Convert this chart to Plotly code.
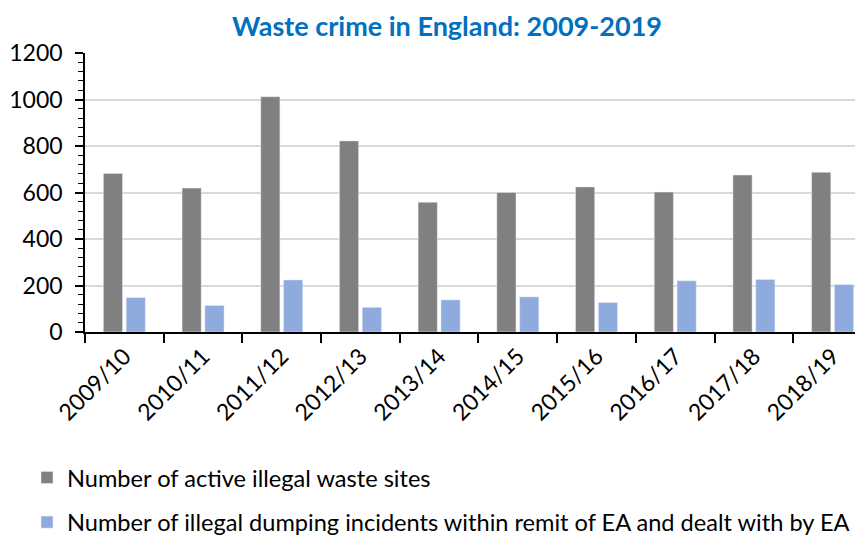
import plotly.graph_objects as go

categories = ["2009/10", "2010/11", "2011/12", "2012/13", "2013/14",
              "2014/15", "2015/16", "2016/17", "2017/18", "2018/19"]
active_sites = [682, 619, 1012, 822, 558, 600, 624, 602, 675, 687]
dumping_incidents = [148, 114, 224, 106, 138, 151, 127, 220, 226, 204]
series_names = ["Number of active illegal waste sites",
                "Number of illegal dumping incidents within remit of EA and dealt with by EA"]
y_ticks = [0, 200, 400, 600, 800, 1000, 1200]

FONT = "Lato"
# page body has an 8px margin; figure coordinates are viewport minus 8
W, H = 855, 527
L, T, B = 77, 45.3, 203.3
PW = W - L
PH = H - T - B

fig = go.Figure()
fig.add_trace(go.Bar(x=categories, y=active_sites, name=series_names[0],
                     marker=dict(color="#808080"), legendgroup="a"))
fig.add_trace(go.Bar(x=categories, y=dumping_incidents, name=series_names[1],
                     marker=dict(color="#8faadc"), legendgroup="b"))

fig.update_layout(
    width=W, height=H,
    paper_bgcolor="white", plot_bgcolor="white",
    margin=dict(l=L, r=0, t=T, b=B, autoexpand=False),
    barmode="group", bargap=0.42, bargroupgap=0.16,
    font=dict(family=FONT, size=24, color="black"),
    title=dict(text="<b>Waste crime in England: 2009-2019</b>",
               font=dict(family=FONT, size=27, color="#0070c0"),
               x=(439 - L) / PW, xanchor="center", xref="paper",
               y=1 - 18.5/H, yanchor="middle", yref="container"),
    legend=dict(orientation="v", x=(19 - L) / PW, xanchor="left",
                y=-(447 - (H - B)) / PH, yanchor="top",
                font=dict(family=FONT, size=23.6), tracegroupgap=11,
                bgcolor="rgba(0,0,0,0)"),
    showlegend=True,
)
fig.update_xaxes(type="category", range=[-0.5, 9.386], automargin=False,
                 showline=True, linecolor="black", linewidth=1.5,
                 ticks="outside", tickson="boundaries", ticklen=9, tickcolor="black", tickwidth=1.5,
                 ticklabelstandoff=0,
                 tickangle=-45, showgrid=False, tickfont=dict(size=23))
fig.update_yaxes(range=[0, 1200], tickvals=y_ticks, automargin=False,
                 showline=True, linecolor="black", linewidth=1.5,
                 ticks="outside", ticklen=8, tickcolor="black", tickwidth=1.5,
                 ticklabelstandoff=8,
                 minor=dict(dtick=40, ticks="outside", ticklen=5, tickcolor="black", tickwidth=1, showgrid=False),
                 showgrid=True, gridcolor="#d9d9d9", gridwidth=1.5,
                 zeroline=False, tickfont=dict(size=23))

fig.write_html("out.html")
